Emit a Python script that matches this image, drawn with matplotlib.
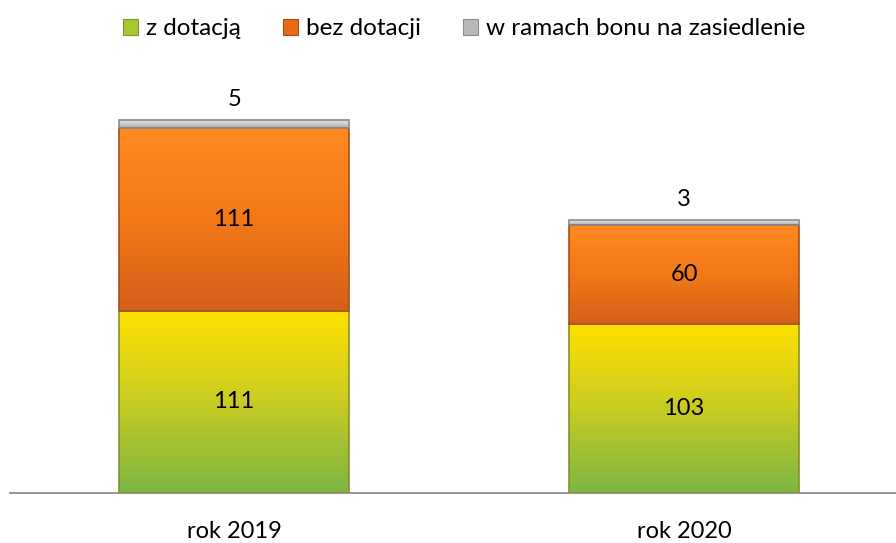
import numpy as np
import matplotlib.pyplot as plt
from matplotlib.colors import LinearSegmentedColormap
from matplotlib.patches import Patch

plt.rcParams['font.family'] = ['Lato', 'DejaVu Sans']

categories = ['rok 2019', 'rok 2020']
series_names = ['z dotacją', 'bez dotacji', 'w ramach bonu na zasiedlenie']
z_dotacja = [111, 103]
bez_dotacji = [111, 60]
bon = [5, 3]

# gradient stops bottom -> top for each series
GRADS = [['#7cb644', '#c8cc22', '#ffe000'],
         ['#d4601a', '#f27818', '#ff8a22'],
         ['#a8a8a8', '#d0d0d0', '#e4e4e4']]
EDGES = ['#8a8f2a', '#a8501a', '#8c8c8c']
LEGEND_COLS = ['#a8c832', '#e86a14', '#b8b8b8']

fig = plt.figure(figsize=(8.96, 5.43), dpi=100)
ax = fig.add_axes([10/896, 50/543, 886/896, 440/543])

x = np.arange(len(categories))
bottom = np.zeros(len(categories))
for vals, stops, edge in zip([z_dotacja, bez_dotacji, bon], GRADS, EDGES):
    bars = ax.bar(x, vals, width=0.51, bottom=bottom, color='none', edgecolor='none')
    cmap = LinearSegmentedColormap.from_list('g', stops)
    grad = np.linspace(1, 0, 100).reshape(-1, 1)
    for b in bars:
        x0, y0, w, h = b.get_x(), b.get_y(), b.get_width(), b.get_height()
        ax.imshow(grad, cmap=cmap, aspect='auto', extent=[x0, x0 + w, y0, y0 + h],
                  zorder=2, interpolation='bilinear')
        ax.add_patch(plt.Rectangle((x0, y0), w, h, fill=False, edgecolor=edge,
                                   linewidth=1.2, zorder=3))
    bottom += np.array(vals)

# value labels
for i in range(len(categories)):
    ax.text(x[i], z_dotacja[i] / 2, str(z_dotacja[i]), ha='center', va='center',
            fontsize=17, color='black', zorder=4)
    ax.text(x[i], z_dotacja[i] + bez_dotacji[i] / 2, str(bez_dotacji[i]), ha='center',
            va='center', fontsize=17, color='black', zorder=4)
    ax.text(x[i], z_dotacja[i] + bez_dotacji[i] + bon[i] + 6, str(bon[i]), ha='center',
            va='bottom', fontsize=17, color='black', zorder=4)

ax.set_xlim(-0.498, 1.471)
ax.set_ylim(0, 440 / 1.643)
ax.set_xticks(x)
ax.set_xticklabels(categories, fontsize=17)
ax.tick_params(axis='x', length=0, pad=20)
ax.set_yticks([])
for s in ['top', 'right', 'left']:
    ax.spines[s].set_visible(False)
ax.spines['bottom'].set_color('#8c8c8c')
ax.spines['bottom'].set_linewidth(1.3)

handles = [Patch(facecolor=c, edgecolor=e, linewidth=0.8) for c, e in zip(LEGEND_COLS, EDGES)]
fig.legend(handles, series_names, loc='center', bbox_to_anchor=(464/896, 1 - 29/543),
           ncol=3, frameon=False, fontsize=17.5, handlelength=0.63, handleheight=0.63,
           handletextpad=0.3, columnspacing=1.75)

fig.savefig('out.png', dpi=100)
